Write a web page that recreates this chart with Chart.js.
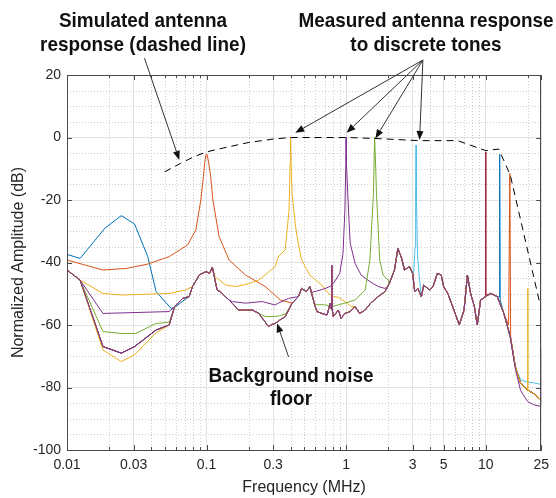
<!DOCTYPE html>
<html>
<head>
<meta charset="utf-8">
<script src="https://cdn.jsdelivr.net/npm/chart.js@4.4.1/dist/chart.umd.min.js"></script>
<style>
  body { margin: 0; background: #fff; }
  #wrap { position: relative; width: 556px; height: 498px; }
  .note {
    position: absolute; white-space: nowrap; text-align: center; color: #111;
    font: bold 21px "Liberation Sans", Arial, sans-serif; line-height: 24px;
    transform: translateX(-50%) scaleX(.9);
  }
</style>
</head>
<body>
<div id="wrap">
  <canvas id="c" width="556" height="498"></canvas>
  <div class="note" style="left:143px;top:8px">Simulated antenna<br>response (dashed line)</div>
  <div class="note" style="left:426px;top:8px">Measured antenna response<br>to discrete tones</div>
  <div class="note" style="left:291px;top:363px;line-height:23px">Background noise<br>floor</div>
</div>
<script>
// axis ticks
const xTickVals = [0.01, 0.03, 0.1, 0.3, 1, 3, 5, 10, 25];
const xTickLabels = ['0.01', '0.03', '0.1', '0.3', '1', '3', '5', '10', '25'];
const xMinor = [0.02, 0.04, 0.05, 0.06, 0.07, 0.08, 0.09, 0.2, 0.4, 0.5, 0.6, 0.7, 0.8, 0.9, 2, 4, 6, 7, 8, 9, 20];
const yMinor = [-95, -90, -85, -75, -70, -65, -55, -50, -45, -35, -30, -25, -15, -10, -5, 5, 10, 15];

// simulated response (dashed)
const simF = [0.05, 0.065, 0.08, 0.1, 0.14, 0.2, 0.3, 0.4, 1.0, 1.6, 3.3, 6.3, 10, 12.4, 15, 25];
const simDb = [-11, -8.3, -6.3, -4.6, -3.1, -1.6, -0.5, 0, 0, -0.3, -1, -1, -4.2, -3.7, -12, -55];

// background noise floor shared by every measurement (MHz / dB)
const floorF = [0.01, 0.0124, 0.0181, 0.0245, 0.0305, 0.0435, 0.054, 0.059, 0.0673, 0.075, 0.0793, 0.0887, 0.0993, 0.105, 0.11,
  0.119, 0.125, 0.145, 0.17, 0.213, 0.237, 0.278, 0.295, 0.31, 0.335, 0.367, 0.41, 0.455, 0.48, 0.52, 0.55, 0.566, 0.6, 0.62,
  0.67, 0.73, 0.77, 0.785, 0.79, 0.795, 0.81, 0.88, 0.92, 0.98, 1.07, 1.16, 1.25, 1.37, 1.5, 1.7, 1.9, 2.04, 2.22, 2.35, 2.5,
  2.62, 2.84, 3.0, 3.1, 3.26, 3.46, 3.6, 3.95, 4.2, 4.5, 4.8, 5.0, 5.35, 5.8, 6.47, 7.0, 7.4, 7.8, 8.3, 8.7, 9.2, 10, 10.9,
  12.1, 13.5, 15, 16.3, 17.8, 20, 22, 25];
const floorDb = [-42.4, -45.6, -66.9, -69, -66.9, -61.6, -60, -54.1, -51.5, -50.9, -47.7, -44, -42.9, -43.5, -41.5,
  -48.8, -49.3, -52, -55.2, -55.2, -56.3, -60.5, -59.8, -59.5, -58.4, -57.3, -53, -50.9, -48.3, -49.3, -47.7, -49.9, -54.1, -55.7,
  -56.3, -56.8, -53, -55, -41, -55, -57.3, -55.2, -57.9, -56.3, -55.7, -54.1, -56.3, -55.2, -53, -50.9, -49.3, -46.7, -42.4, -35.5, -38.7,
  -42.4, -41.3, -43.5, -49.3, -48.3, -50.9, -47.2, -48.8, -47.7, -43.5, -44, -47.7, -49.9, -54.1, -60, -55.2, -44, -49.9, -54.1, -60, -52, -50.9, -49.9,
  -50.9, -56.3, -63.7, -73.3, -78.7, -80.8, -81.9, -84];

// parts of each measurement that leave the floor, [MHz, dB]
const blue1Low = [[0.01, -37.4], [0.0124, -38.7], [0.0187, -29], [0.0245, -25], [0.0305, -27.7], [0.0379, -38.1], [0.0435, -49.3], [0.0557, -54.7], [0.0604, -54.1], [0.069, -52], [0.075, -51]];
const orange1Tone = [[0.01, -39.2], [0.0181, -42.4], [0.0266, -41.9], [0.0379, -40.5], [0.0541, -38.1], [0.073, -34.4], [0.0838, -29.6], [0.091, -20], [0.095, -12.5], [0.097, -8], [0.099, -5.6], [0.1, -5.3], [0.101, -5.6], [0.104, -8.5], [0.107, -12.5], [0.111, -20], [0.123, -31.7], [0.145, -39.2], [0.19, -44], [0.264, -47.7], [0.338, -52], [0.41, -53]];
const yellow1Low = [[0.01, -42.4], [0.0124, -45.6], [0.0181, -49.9], [0.0245, -50.4], [0.054, -49.9], [0.071, -48.8], [0.0793, -47.7]];
const yellow1Tone = [[0.115, -44.5], [0.137, -47.2], [0.162, -47.7], [0.2, -46.8], [0.237, -45.6], [0.31, -41.3], [0.327, -38.1], [0.366, -36], [0.39, -23.2], [0.397, -8], [0.4, 0], [0.403, -8], [0.41, -18], [0.434, -28.5], [0.455, -34], [0.48, -39.2], [0.55, -44], [0.669, -47.2], [0.749, -49.9], [0.81, -50.9], [0.88, -51.1], [0.98, -52.5], [1.09, -54.1], [1.16, -54.1]];
const purple1Low = [[0.01, -42.4], [0.0124, -45.6], [0.0181, -56.3], [0.054, -55.7], [0.059, -54.1]];
const purple1Skirt = [[0.145, -52], [0.153, -52.5], [0.19, -53], [0.25, -52.5], [0.31, -53.6], [0.327, -53], [0.387, -51.5], [0.44, -51]];
const purple1Tone = [[0.58, -49.4], [0.6, -49.3], [0.71, -48.3], [0.78, -47.5], [0.79, -40.8], [0.8, -47], [0.81, -46.7], [0.9, -43.5], [0.95, -37.1], [0.98, -23.2], [0.995, -8], [1.0, 0], [1.005, -8], [1.04, -23.2], [1.07, -33.9], [1.16, -40.3], [1.28, -44], [1.48, -46.1], [1.7, -47.7], [1.9, -48.3], [2.0, -47.5]];
const green1Low = [[0.01, -42.4], [0.0124, -45.6], [0.0181, -62.1], [0.0245, -62.7], [0.031, -62.7], [0.0435, -59.5], [0.054, -59.1], [0.059, -54.1]];
const green1Skirt = [[0.237, -56.3], [0.264, -57.3], [0.31, -57.3], [0.335, -57], [0.367, -56.5], [0.38, -55.5]];
const green1Tone = [[0.6, -53.5], [0.7, -53.5], [0.79, -54.1], [0.98, -53], [1.16, -52], [1.37, -48.8], [1.48, -39.2], [1.57, -17.9], [1.6, 0], [1.63, -10], [1.65, -17.9], [1.74, -39.2], [1.84, -44], [2.0, -45.6], [2.04, -46.7]];
const cyan1Tone = [[3.05, -43], [3.12, -35], [3.15, -20], [3.17, -2.4], [3.19, -20], [3.25, -38], [3.35, -45], [3.46, -50.9]];
const cyan1Tail = [[17.8, -77.5], [20, -78.3], [22, -78.5], [25, -79]];
const red1Tone = [[9.95, -51], [10, -4.6], [10.05, -50.5]];
const blue2Tone = [[12.5, -51], [12.6, -5.4], [12.7, -52]];
const orange2Tone = [[14.6, -60], [14.9, -11.5], [15.1, -63.7]];
const yellow2Low = [[0.0124, -45.6], [0.0181, -68], [0.0245, -71.7], [0.0305, -69.5], [0.0435, -62.5]];
const yellow2Tone = [[19.9, -80.8], [20, -48.3], [20.1, -80.8]];
const purple2Tone = [[16.3, -74], [17.8, -81], [20, -84.5], [22, -85.5], [24.75, -86], [24.88, -67.4], [25, -85.5]];

const series = [
  { name: '0.025 MHz', parts: [blue1Low] },
  { name: '0.1 MHz', parts: [orange1Tone] },
  { name: '0.4 MHz', parts: [yellow1Low, yellow1Tone] },
  { name: '1 MHz', parts: [purple1Low, purple1Skirt, purple1Tone] },
  { name: '1.6 MHz', parts: [green1Low, green1Skirt, green1Tone] },
  { name: '3.2 MHz', parts: [cyan1Tone, cyan1Tail] },
  { name: '10 MHz', parts: [red1Tone] },
  { name: '12.6 MHz', parts: [blue2Tone] },
  { name: '15 MHz', parts: [orange2Tone] },
  { name: '20 MHz', parts: [yellow2Low, yellow2Tone] },
  { name: '25 MHz', parts: [purple2Tone] },
];
const colors = ['#0072BD', '#D95319', '#EDB120', '#7E2F8E', '#77AC30', '#4DBEEE', '#A2142F'];

// arrows, in data units: [from, to]
const arrows = [
  [[0.0359, 25.4], [0.0638, -7.2]],
  [[3.55, 24.8], [0.432, 1.5]],
  [[3.55, 24.8], [1.008, 1.5]],
  [[3.55, 24.8], [1.62, -0.3]],
  [[3.55, 24.8], [3.36, -0.8]],
  [[0.387, -70.2], [0.32, -59.5]],
];

// floor everywhere except where a part of the measurement covers it
function buildSeries(parts) {
  const pts = [];
  floorF.forEach((f, i) => {
    if (!parts.some((p) => f >= p[0][0] && f <= p[p.length - 1][0])) pts.push({ x: f, y: floorDb[i] });
  });
  parts.forEach((p) => p.forEach(([x, y]) => pts.push({ x, y })));
  return pts.sort((a, b) => a.x - b.x);
}

const FONT = '"Liberation Sans", Arial, Helvetica, sans-serif';
const INK = '#262626';

const datasets = series.map((s, i) => ({
  label: s.name,
  data: buildSeries(s.parts),
  borderColor: colors[i % colors.length],
  borderWidth: 1,
  pointRadius: 0,
  order: 100 - i,
}));
datasets.push({
  label: 'Simulated',
  data: simF.map((f, i) => ({ x: f, y: simDb[i] })),
  borderColor: '#000',
  borderWidth: 1,
  borderDash: [7, 5],
  pointRadius: 0,
  order: 0,
});

const matlabAxes = {
  id: 'matlabAxes',
  beforeDatasetsDraw(chart) {
    const { ctx, chartArea: a, scales: { x, y } } = chart;
    ctx.save();
    ctx.strokeStyle = '#cdcdcd';
    ctx.lineWidth = 1;
    ctx.setLineDash([1, 2]);
    ctx.beginPath();
    xMinor.forEach((v) => {
      const px = Math.round(x.getPixelForValue(v)) + 0.5;
      ctx.moveTo(px, a.top); ctx.lineTo(px, a.bottom);
    });
    yMinor.forEach((v) => {
      const py = Math.round(y.getPixelForValue(v)) + 0.5;
      ctx.moveTo(a.left, py); ctx.lineTo(a.right, py);
    });
    ctx.stroke();
    ctx.restore();
  },
  afterDatasetsDraw(chart) {
    const { ctx, chartArea: a, scales: { x, y } } = chart;
    ctx.save();
    // box and inward ticks
    ctx.strokeStyle = '#4a4a4a';
    ctx.lineWidth = 1;
    ctx.strokeRect(Math.round(a.left) + 0.5, Math.round(a.top) + 0.5, Math.round(a.right - a.left) - 1, Math.round(a.bottom - a.top));
    ctx.beginPath();
    const tickX = (v, len) => {
      const px = Math.round(x.getPixelForValue(v)) + 0.5;
      ctx.moveTo(px, a.bottom); ctx.lineTo(px, a.bottom - len);
      ctx.moveTo(px, a.top); ctx.lineTo(px, a.top + len);
    };
    const tickY = (v, len) => {
      const py = Math.round(y.getPixelForValue(v)) + 0.5;
      ctx.moveTo(a.left, py); ctx.lineTo(a.left + len, py);
      ctx.moveTo(a.right, py); ctx.lineTo(a.right - len, py);
    };
    xTickVals.forEach((v) => tickX(v, 5));
    xMinor.forEach((v) => tickX(v, 3));
    y.ticks.forEach((t) => tickY(t.value, 5));
    ctx.stroke();

    // annotation arrows
    ctx.strokeStyle = '#333';
    ctx.fillStyle = '#111';
    arrows.forEach(([from, to]) => {
      const x0 = x.getPixelForValue(from[0]), y0 = y.getPixelForValue(from[1]);
      const x1 = x.getPixelForValue(to[0]), y1 = y.getPixelForValue(to[1]);
      const ang = Math.atan2(y1 - y0, x1 - x0);
      const len = 9, half = 3.5;
      ctx.beginPath();
      ctx.moveTo(x0, y0);
      ctx.lineTo(x1 - Math.cos(ang) * len, y1 - Math.sin(ang) * len);
      ctx.stroke();
      ctx.beginPath();
      ctx.moveTo(x1, y1);
      ctx.lineTo(x1 - Math.cos(ang) * len - Math.sin(ang) * half, y1 - Math.sin(ang) * len + Math.cos(ang) * half);
      ctx.lineTo(x1 - Math.cos(ang) * len + Math.sin(ang) * half, y1 - Math.sin(ang) * len - Math.cos(ang) * half);
      ctx.closePath();
      ctx.fill();
    });
    ctx.restore();
  },
};

new Chart(document.getElementById('c'), {
  type: 'line',
  data: { datasets },
  options: {
    responsive: false,
    animation: false,
    events: [],
    layout: { padding: { top: 75, right: 12, left: 0, bottom: 0 } },
    plugins: { legend: { display: false }, tooltip: { enabled: false } },
    elements: { line: { tension: 0 } },
    scales: {
      x: {
        type: 'logarithmic',
        min: 0.01,
        max: 25,
        afterBuildTicks: (s) => { s.ticks = xTickVals.map((v) => ({ value: v })); },
        afterFit: (s) => { s.height = 48; },
        grid: { color: '#e2e2e2', drawTicks: false },
        border: { color: '#4a4a4a' },
        ticks: {
          autoSkip: false, maxRotation: 0, padding: 7, color: INK,
          font: { family: FONT, size: 14 },
          callback: (v, i) => xTickLabels[i],
        },
        title: {
          display: true, text: 'Frequency (MHz)', color: INK,
          font: { family: FONT, size: 16 }, padding: { top: 0, bottom: 1 },
        },
      },
      y: {
        type: 'linear',
        min: -100,
        max: 20,
        afterFit: (s) => { s.width = 67; },
        grid: { color: '#e2e2e2', drawTicks: false },
        border: { color: '#4a4a4a' },
        ticks: { stepSize: 20, padding: 6, color: INK, font: { family: FONT, size: 14 } },
        title: {
          display: true, text: 'Normalized Amplitude (dB)', color: INK,
          font: { family: FONT, size: 16 }, padding: { top: 9, bottom: 0 },
        },
      },
    },
  },
  plugins: [matlabAxes],
});
</script>
</body>
</html>
